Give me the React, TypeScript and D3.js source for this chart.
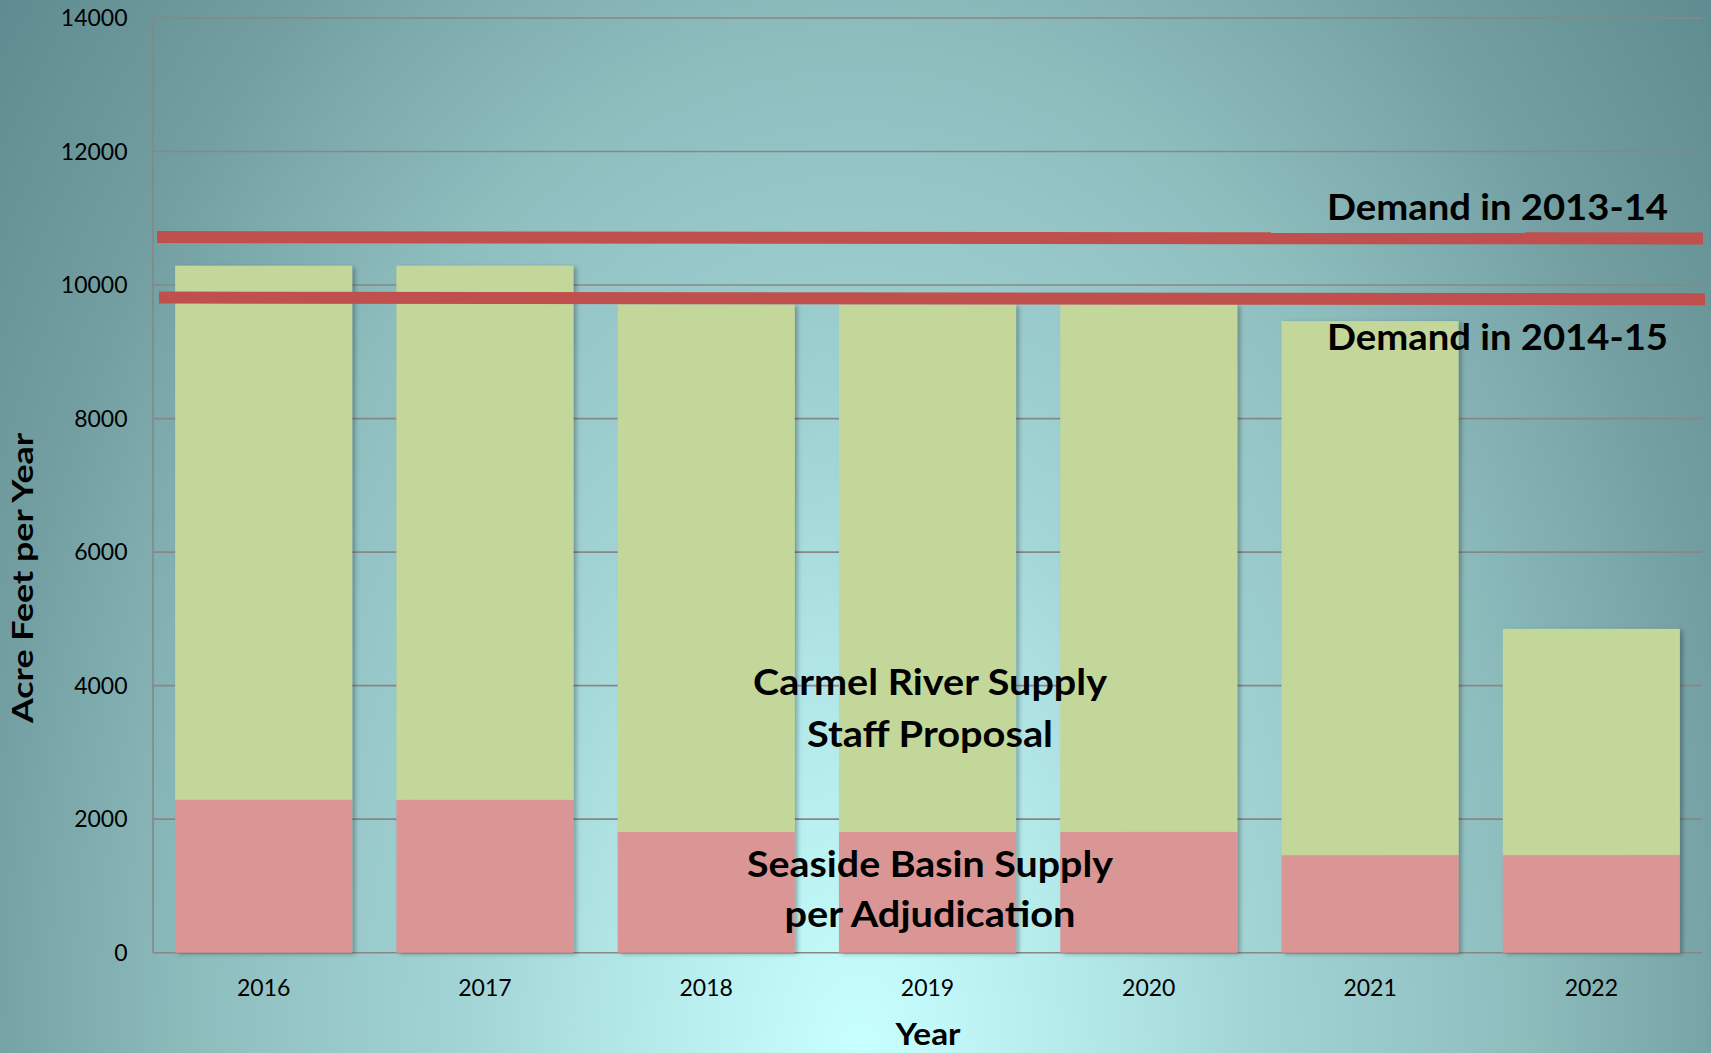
import { useEffect, useRef } from 'react';
import * as d3 from 'd3';

const years = ['2016', '2017', '2018', '2019', '2020', '2021', '2022'];
const seasideSupply = [2290, 2290, 1810, 1810, 1810, 1460, 1460];
const carmelSupply = [8000, 8000, 7900, 7900, 7900, 8000, 3390];
const yTicks = [0, 2000, 4000, 6000, 8000, 10000, 12000, 14000];

// demand lines, value at left end and right end
const demand1314 = [10718, 10697];
const demand1415 = [9813, 9789];

const W = 1711;
const H = 1053;
const FONT = 'Lato, "Open Sans", sans-serif';

export default function App() {
  const ref = useRef<SVGSVGElement | null>(null);

  useEffect(() => {
    document.body.style.margin = '0';
    document.body.style.overflow = 'hidden';
    if (!ref.current) return;
    const svg = d3.select(ref.current);
    svg.selectAll('*').remove();

    const margin = { top: 18, right: 9, bottom: 100.3, left: 153 };
    const x = d3.scaleBand<string>()
      .domain(years)
      .range([margin.left, W - margin.right])
      .paddingInner(0.2)
      .paddingOuter(0.1);
    const y = d3.scaleLinear()
      .domain([0, 14000])
      .range([H - margin.bottom, margin.top]);

    const defs = svg.append('defs');
    const bg = defs.append('radialGradient')
      .attr('id', 'bg')
      .attr('gradientUnits', 'userSpaceOnUse')
      .attr('cx', 0).attr('cy', 0).attr('r', 1)
      .attr('gradientTransform', 'translate(860,1053) scale(1105,1690)');
    [
      [0, '#c8ffff'],
      [0.2, '#b4e9ea'],
      [0.35, '#a3d5d6'],
      [0.6, '#8ebdbe'],
      [0.8, '#739fa2'],
      [1, '#5e8b8f'],
    ].forEach(([o, c]) => bg.append('stop').attr('offset', o as number).attr('stop-color', c as string));

    const shadow = defs.append('filter')
      .attr('id', 'shadow')
      .attr('x', '-10%').attr('y', '-10%')
      .attr('width', '120%').attr('height', '120%');
    shadow.append('feDropShadow')
      .attr('dx', 3).attr('dy', 1.5)
      .attr('stdDeviation', 2.2)
      .attr('flood-color', '#000')
      .attr('flood-opacity', 0.28);

    svg.append('rect')
      .attr('width', W).attr('height', H)
      .attr('fill', 'url(#bg)');

    // gridlines
    svg.append('g')
      .selectAll('line')
      .data(yTicks)
      .join('line')
      .attr('x1', margin.left)
      .attr('x2', W - margin.right)
      .attr('y1', d => y(d))
      .attr('y2', d => y(d))
      .attr('stroke', '#878787')
      .attr('stroke-width', 1.6);

    svg.append('line')
      .attr('x1', margin.left).attr('x2', margin.left)
      .attr('y1', y(14000)).attr('y2', y(0))
      .attr('stroke', '#878787')
      .attr('stroke-width', 1.6);

    // stacked bars
    const rows = years.map((yr, i) => ({ year: yr, seaside: seasideSupply[i], carmel: carmelSupply[i] }));
    const stack = d3.stack<any>().keys(['seaside', 'carmel'])(rows);
    const colors: Record<string, string> = { seaside: '#da9694', carmel: '#c4d79b' };

    const barG = svg.append('g');
    rows.forEach((r, i) => {
      const g = barG.append('g').attr('filter', 'url(#shadow)');
      stack.forEach(s => {
        const seg = s[i];
        g.append('rect')
          .attr('x', x(r.year)!)
          .attr('width', x.bandwidth())
          .attr('y', y(seg[1]))
          .attr('height', y(seg[0]) - y(seg[1]))
          .attr('fill', colors[s.key]);
      });
    });

    // demand lines
    const [rx0, rx1] = x.range();
    [demand1314, demand1415].forEach((d, i) => {
      svg.append('line')
        .attr('x1', rx0 + 4 + i * 2)
        .attr('x2', rx1 + 1 + i * 2)
        .attr('y1', y(d[0]))
        .attr('y2', y(d[1]))
        .attr('stroke', '#c0504d')
        .attr('stroke-width', 12);
    });

    // y tick labels
    svg.append('g')
      .selectAll('text')
      .data(yTicks)
      .join('text')
      .attr('x', 127.5)
      .attr('y', d => y(d))
      .attr('dy', '0.36em')
      .attr('text-anchor', 'end')
      .attr('font-family', FONT)
      .attr('font-size', 23)
      .attr('fill', '#000')
      .text(d => d);

    // x tick labels
    svg.append('g')
      .selectAll('text')
      .data(years)
      .join('text')
      .attr('x', d => x(d)! + x.bandwidth() / 2)
      .attr('y', 996)
      .attr('text-anchor', 'middle')
      .attr('font-family', FONT)
      .attr('font-size', 23)
      .attr('fill', '#000')
      .text(d => d);

    const bold = (tx: number, ty: number, text: string, size: number, len: number, anchor = 'middle') =>
      svg.append('text')
        .attr('x', tx)
        .attr('y', ty)
        .attr('text-anchor', anchor)
        .attr('font-family', FONT)
        .attr('font-weight', 'bold')
        .attr('font-size', size)
        .attr('fill', '#000')
        .attr('textLength', len)
        .attr('lengthAdjust', 'spacingAndGlyphs')
        .text(text);

    bold(1327, 220, 'Demand in 2013-14', 37, 341, 'start');
    bold(1327, 350, 'Demand in 2014-15', 37, 341, 'start');
    bold(930, 695, 'Carmel River Supply', 37, 354);
    bold(930, 746.5, 'Staff Proposal', 37, 246);
    bold(930, 876.5, 'Seaside Basin Supply', 37, 366);
    bold(930, 927, 'per Adjudication', 37, 291);
    bold(928, 1045, 'Year', 31, 65);

    svg.append('text')
      .attr('transform', 'translate(33,578) rotate(-90)')
      .attr('text-anchor', 'middle')
      .attr('font-family', FONT)
      .attr('font-weight', 'bold')
      .attr('font-size', 29)
      .attr('fill', '#000')
      .attr('textLength', 290)
      .attr('lengthAdjust', 'spacingAndGlyphs')
      .text('Acre Feet per Year');
  }, []);

  return (
    <svg ref={ref} width={W} height={H} style={{ display: 'block' }} />
  );
}
